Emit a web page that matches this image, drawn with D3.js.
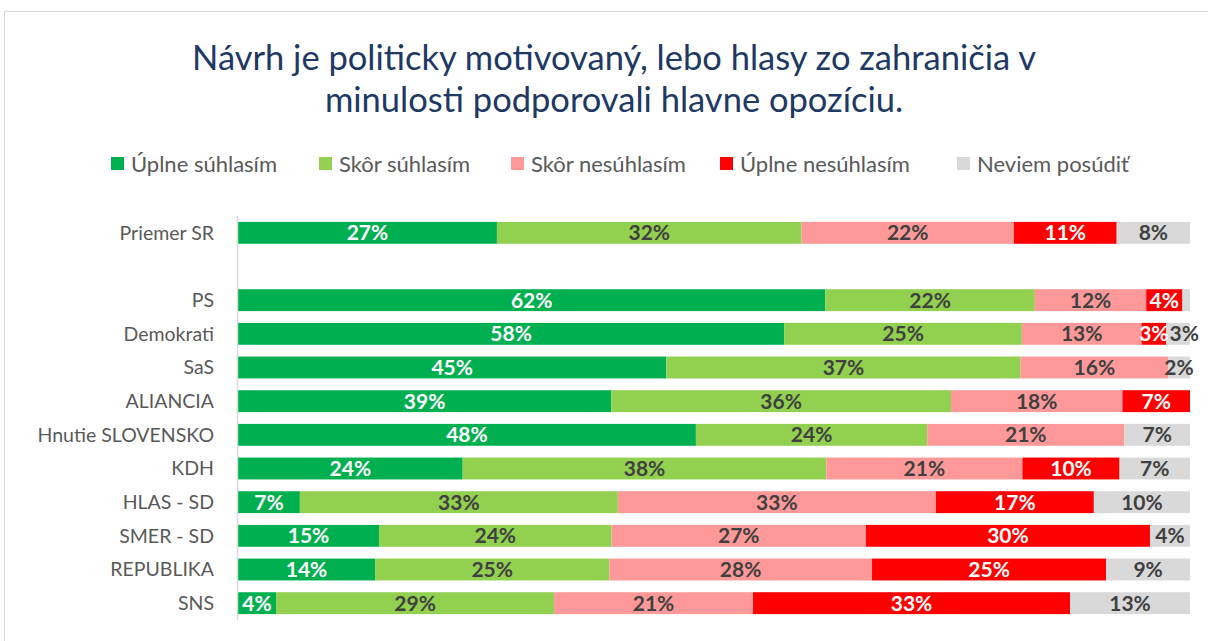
<!DOCTYPE html>
<html>
<head>
    <meta charset="utf-8">
    <title>Návrh je politicky motivovaný</title>
    <script src="https://d3js.org/d3.v7.min.js"></script>
    <style>
        body { margin: 0; background: #fff; }
        text { font-family: Lato, "Open Sans", sans-serif; }
    </style>
</head>
<body>
    <div id="chart"></div>
    <script>
        // categories (the empty string is the gap row under the average)
        var parties = ["Priemer SR", "", "PS", "Demokrati", "SaS", "ALIANCIA", "Hnutie SLOVENSKO",
            "KDH", "HLAS - SD", "SMER - SD", "REPUBLIKA", "SNS"];
        var seriesNames = ["Úplne súhlasím", "Skôr súhlasím", "Skôr nesúhlasím", "Úplne nesúhlasím", "Neviem posúdiť"];
        var colors = ["#00b050", "#92d050", "#ff9999", "#ff0000", "#d9d9d9"];
        var labelColors = ["#ffffff", "#404040", "#404040", "#ffffff", "#404040"];

        // values per series (%, estimated from the bars), same order as parties
        var uplneSuhlasim   = [27.2, 0, 61.7, 57.5, 45.0, 39.2, 48.1, 23.6, 6.5, 14.8, 14.4, 4.0];
        var skorSuhlasim    = [32.0, 0, 22.0, 25.0, 37.2, 35.7, 24.3, 38.2, 33.4, 24.4, 24.6, 29.2];
        var skorNesuhlasim  = [22.3, 0, 11.7, 12.6, 15.5, 18.0, 20.7, 20.6, 33.4, 26.7, 27.6, 20.9];
        var uplneNesuhlasim = [10.8, 0, 3.8, 2.6, 0, 7.1, 0, 10.2, 16.6, 29.8, 24.6, 33.3];
        var neviem          = [7.7, 0, 0.8, 2.5, 2.3, 0, 6.9, 7.4, 10.1, 4.2, 8.8, 12.6];
        var series = [uplneSuhlasim, skorSuhlasim, skorNesuhlasim, uplneNesuhlasim, neviem];

        var W = 1208, H = 641;
        var svg = d3.select("#chart").append("svg")
            .attr("width", W)
            .attr("height", H);

        // chart frame
        svg.append("rect")
            .attr("x", 4.5).attr("y", 11.5)
            .attr("width", W + 10).attr("height", H + 10)
            .attr("fill", "none")
            .attr("stroke", "#d9d9d9");

        // title
        var title = svg.append("text")
            .attr("text-anchor", "middle")
            .attr("fill", "#203864")
            .style("font-size", "34.5px");
        title.append("tspan").attr("x", 614).attr("y", 70)
            .text("Návrh je politicky motivovaný, lebo hlasy zo zahraničia v");
        title.append("tspan").attr("x", 614).attr("y", 112)
            .text("minulosti podporovali hlavne opozíciu.");

        // legend
        var legendX = [111, 319, 511, 720, 957];
        var legend = svg.append("g").selectAll("g")
            .data(seriesNames)
            .join("g")
            .attr("transform", function(d, i) { return "translate(" + legendX[i] + ",164)"; });
        legend.append("rect")
            .attr("x", 0).attr("y", -7)
            .attr("width", 13).attr("height", 13)
            .attr("fill", function(d, i) { return colors[i]; });
        legend.append("text")
            .attr("x", 20).attr("y", 0)
            .attr("dy", "0.35em")
            .attr("fill", "#595959")
            .style("font-size", "22px")
            .text(function(d) { return d; });

        // scales
        var x = d3.scaleLinear().domain([0, 1]).range([238, 1190]);
        var y = d3.scaleBand().domain(d3.range(parties.length)).range([216, 620]).paddingInner(0.35).paddingOuter(0.175);

        // 100% stack
        var rows = parties.map(function(p, i) {
            var r = { name: p };
            series.forEach(function(s, k) { r["s" + k] = s[i]; });
            return r;
        });
        var stack = d3.stack()
            .keys(series.map(function(s, k) { return "s" + k; }))
            .offset(d3.stackOffsetExpand);
        var layers = stack(rows);

        var g = svg.append("g");
        var labelGroup = svg.append("g");
        layers.forEach(function(layer, k) {
            var seg = layer.map(function(d, i) { return { i: i, x0: d[0], x1: d[1], v: series[k][i] }; })
                .filter(function(d) { return d.v > 0; });
            g.selectAll(null)
                .data(seg)
                .join("rect")
                .attr("x", function(d) { return x(d.x0); })
                .attr("y", function(d) { return y(d.i); })
                .attr("width", function(d) { return x(d.x1) - x(d.x0); })
                .attr("height", y.bandwidth())
                .attr("fill", colors[k]);
            // tiny slivers carry no label
            labelGroup.selectAll(null)
                .data(seg.filter(function(d) { return d.v >= 1; }))
                .join("text")
                .attr("class", "lbl")
                .attr("x", function(d) { return (x(d.x0) + x(d.x1)) / 2; })
                .attr("y", function(d) { return y(d.i) + y.bandwidth() / 2; })
                .attr("dy", "0.36em")
                .attr("text-anchor", "middle")
                .attr("fill", labelColors[k])
                .style("font-size", "21px")
                .style("font-weight", "bold")
                .text(function(d) { return Math.round(d.v) + "%"; });
        });

        // nudge neighbouring labels apart when narrow segments make them collide
        d3.range(parties.length).forEach(function(i) {
            var prevRight = -Infinity;
            labelGroup.selectAll("text.lbl")
                .filter(function(d) { return d.i === i; })
                .each(function() {
                    var t = d3.select(this);
                    var w = this.getComputedTextLength();
                    var cx = +t.attr("x");
                    if (cx - w / 2 < prevRight + 1) {
                        cx = prevRight + 1 + w / 2;
                        t.attr("x", cx);
                    }
                    prevRight = cx + w / 2;
                });
        });

        // category axis
        svg.append("line")
            .attr("x1", 237.5).attr("x2", 237.5)
            .attr("y1", 216).attr("y2", 620)
            .attr("stroke", "#d9d9d9")
            .attr("stroke-width", 1.5);
        svg.append("g").selectAll("text")
            .data(parties)
            .join("text")
            .attr("x", 214)
            .attr("y", function(d, i) { return y(i) + y.bandwidth() / 2; })
            .attr("dy", "0.35em")
            .attr("text-anchor", "end")
            .attr("fill", "#595959")
            .style("font-size", "19.5px")
            .text(function(d) { return d; });
    </script>
</body>
</html>
